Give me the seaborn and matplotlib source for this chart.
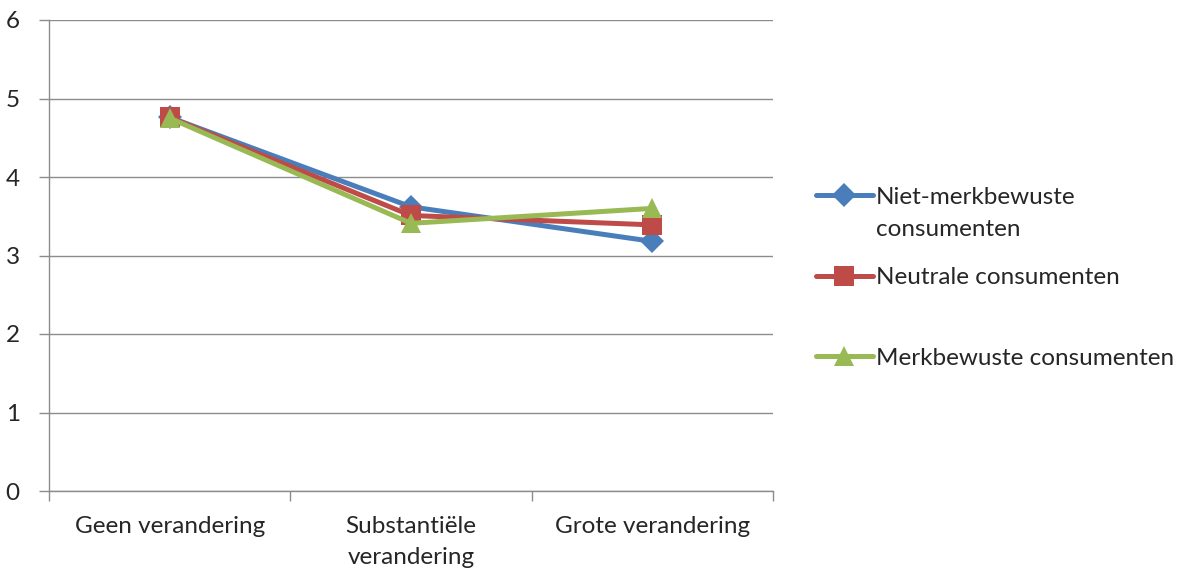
import matplotlib
matplotlib.use("Agg")
import matplotlib.pyplot as plt
import seaborn as sns
import pandas as pd
from matplotlib.lines import Line2D

categories = ["Geen verandering", "Substantiële\nverandering", "Grote verandering"]
series_names = ["Niet-merkbewuste consumenten", "Neutrale consumenten", "Merkbewuste consumenten"]
legend_labels = ["Niet-merkbewuste", "Neutrale consumenten", "Merkbewuste consumenten"]
legend_wrap = "consumenten"
niet_merkbewust = [4.76, 3.62, 3.18]
neutraal = [4.76, 3.51, 3.39]
merkbewust = [4.75, 3.41, 3.60]
y_ticks = [0, 1, 2, 3, 4, 5, 6]

colors = ["#4A7EBB", "#BE4B48", "#98B954"]
markers = ["D", "s", "^"]
marker_sizes = [12, 14, 15]
FS = 17.5

rows = []
for name, vals in zip(series_names, [niet_merkbewust, neutraal, merkbewust]):
    for i, v in enumerate(vals):
        rows.append({"pos": i, "waarde": v, "groep": name})
df = pd.DataFrame(rows)

sns.set_theme(style="white")
plt.rcParams["font.family"] = ["Lato", "DejaVu Sans"]

fig = plt.figure(figsize=(11.78, 5.69), dpi=100)
ax = fig.add_axes([49 / 1178, 1 - 491 / 569, (773 - 49) / 1178, (491 - 20) / 569])

for name, col, mk, ms in zip(series_names, colors, markers, marker_sizes):
    sub = df[df["groep"] == name]
    sns.lineplot(data=sub, x="pos", y="waarde", ax=ax, color=col, linewidth=3.6,
                 marker=mk, markersize=ms, markeredgewidth=0, legend=False)

ax.set_xlim(-0.5, 2.5)
ax.set_ylim(0, 6)
ax.set_yticks(y_ticks)
ax.set_yticklabels([str(t) for t in y_ticks], fontsize=FS)
ax.yaxis.grid(True, color="#8C8C8C", linewidth=1)
ax.set_axisbelow(True)

# category boundaries as major ticks, labels centred as minor ticks
ax.set_xticks([-0.5, 0.5, 1.5, 2.5])
ax.set_xticklabels([])
ax.set_xticks([0, 1, 2], minor=True)
ax.set_xticklabels(categories, minor=True, fontsize=FS, linespacing=1.6)
ax.tick_params(axis="x", which="major", length=7, width=1, color="#8C8C8C", direction="out", bottom=True)
ax.tick_params(axis="x", which="minor", length=0, pad=18)
ax.tick_params(axis="y", length=7, width=1, color="#8C8C8C", direction="out", left=True, pad=14)

for side in ["top", "right"]:
    ax.spines[side].set_visible(False)
for side in ["left", "bottom"]:
    ax.spines[side].set_color("#8C8C8C")
    ax.spines[side].set_linewidth(1)
ax.set_xlabel("")
ax.set_ylabel("")

handles = [Line2D([0], [0], color=c, marker=m, markersize=s, markeredgewidth=0, linewidth=3.6)
           for c, m, s in zip(colors, markers, marker_sizes)]
leg = fig.legend(handles, legend_labels, loc="upper left", bbox_to_anchor=(806 / 1178, 1 - 177 / 569),
                 frameon=False, fontsize=FS, handlelength=2.35, handletextpad=0.12,
                 labelspacing=2.45, borderaxespad=0)

# second line of the first legend label, placed under its first line
fig.canvas.draw()
bb = leg.get_texts()[0].get_window_extent()
fig.text(bb.x0 / 1178, (bb.y0 - 32) / 569, legend_wrap, fontsize=FS, ha="left", va="bottom")

fig.savefig("out.png", dpi=100)
